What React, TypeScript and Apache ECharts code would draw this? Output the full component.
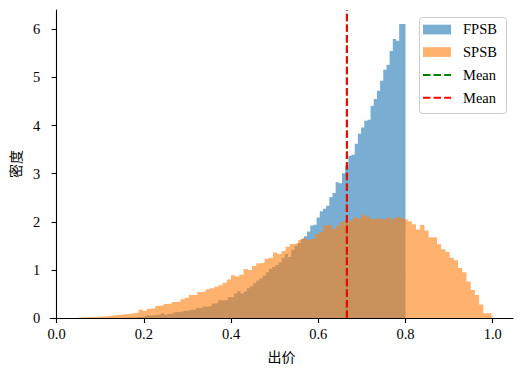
import React, { useEffect, useRef } from "react";
import * as echarts from "echarts";

// Histogram bins (edges come from start + width * index)
const FPSB_START = 0.072;
const FPSB_WIDTH = 0.00728;
const SPSB_START = 0.0332;
const SPSB_WIDTH = 0.009645;

// FPSB density per bin (100 bins)
const fpsbDensity = [
  0, 0, 0, 0, 0, 0, 0.002, 0.002, 0.002, 0.002,
  0.005, 0.005, 0.005, 0.01, 0.01, 0.01, 0.02, 0.02, 0.03, 0.05,
  0.05, 0.06, 0.07, 0.07, 0.1, 0.07, 0.09, 0.09, 0.12, 0.13,
  0.13, 0.15, 0.15, 0.17, 0.17, 0.21, 0.21, 0.24, 0.24, 0.25,
  0.3, 0.31, 0.37, 0.37, 0.37, 0.43, 0.43, 0.51, 0.56, 0.51,
  0.55, 0.62, 0.66, 0.72, 0.78, 0.82, 0.88, 0.95, 1.02, 1.06,
  1.1, 1.16, 1.25, 1.33, 1.27, 1.42, 1.5, 1.56, 1.64, 1.7,
  1.8, 1.92, 1.94, 2.09, 2.22, 2.27, 2.33, 2.51, 2.6, 2.82,
  2.8, 3.01, 3.17, 3.37, 3.39, 3.62, 3.83, 3.96, 4.1, 4.12,
  4.41, 4.55, 4.72, 4.93, 5.16, 5.26, 5.55, 5.8, 5.76, 6.11,
];

// SPSB density per bin (100 bins)
const spsbDensity = [
  0, 0, 0.003, 0.01, 0.015, 0.02, 0.02, 0.025, 0.03, 0.04,
  0.05, 0.06, 0.07, 0.08, 0.09, 0.1, 0.11, 0.17, 0.15, 0.19,
  0.2, 0.25, 0.26, 0.29, 0.3, 0.33, 0.34, 0.39, 0.42, 0.48,
  0.48, 0.54, 0.55, 0.6, 0.62, 0.65, 0.68, 0.73, 0.8, 0.89,
  0.86, 0.9, 1.02, 1.0, 1.08, 1.14, 1.15, 1.23, 1.25, 1.36,
  1.33, 1.39, 1.48, 1.54, 1.55, 1.62, 1.66, 1.62, 1.64, 1.74,
  1.79, 1.92, 1.93, 1.85, 1.92, 2.0, 2.02, 2.02, 2.09, 2.07,
  2.14, 2.11, 2.06, 2.06, 2.07, 2.05, 2.09, 2.05, 2.1, 2.08,
  2.05, 2.01, 1.95, 1.84, 1.93, 1.82, 1.68, 1.68, 1.53, 1.43,
  1.37, 1.25, 1.2, 1.04, 0.95, 0.76, 0.58, 0.48, 0.28, 0.1,
];

const fpsbMean = 0.6655;
const spsbMean = 0.6656;

const xTicks = [0, 0.2, 0.4, 0.6, 0.8, 1.0];
const yTicks = [0, 1, 2, 3, 4, 5, 6];

const SERIF = "'Liberation Serif', 'Times New Roman', serif";
const CJK = "'Noto Sans CJK SC', sans-serif";

function histPoints(start: number, width: number, vals: number[]) {
  const pts: number[][] = vals.map((v, i) => [start + i * width, v]);
  pts.push([start + vals.length * width, vals[vals.length - 1]]);
  return pts;
}

export default function App() {
  const ref = useRef<HTMLDivElement>(null);
  useEffect(() => {
    if (!ref.current) return;
    const chart = echarts.init(ref.current, undefined, { renderer: "svg" });
    const yMax = 6.4;
    const legendX = 419.5;
    const legendY = 17.5;
    const rowY = [29.3, 52, 75, 97.7];
    chart.setOption({
      animation: false,
      grid: { left: 49, right: 11, top: 10, bottom: 57, containLabel: false },
      xAxis: {
        type: "value",
        min: -0.0149,
        max: 1.0465,
        name: "出价",
        nameLocation: "middle",
        nameGap: 31,
        nameTextStyle: { fontFamily: CJK, fontSize: 14, color: "#000" },
        axisLine: { show: true, lineStyle: { color: "#000", width: 1.1 } },
        axisTick: { show: true, inside: false, length: 5, customValues: xTicks, lineStyle: { color: "#000", width: 1.1 } },
        axisLabel: {
          customValues: xTicks,
          formatter: (v: number) => v.toFixed(1),
          fontFamily: SERIF,
          fontSize: 14.5,
          color: "#000",
          margin: 8,
        },
        splitLine: { show: false },
      },
      yAxis: {
        type: "value",
        min: 0,
        max: yMax,
        name: "密度",
        nameLocation: "middle",
        nameRotate: 90,
        nameGap: 25,
        nameTextStyle: { fontFamily: CJK, fontSize: 14, color: "#000" },
        axisLine: { show: true, lineStyle: { color: "#000", width: 1.1 } },
        axisTick: { show: true, inside: false, length: 5, customValues: yTicks, lineStyle: { color: "#000", width: 1.1 } },
        axisLabel: {
          customValues: yTicks,
          fontFamily: SERIF,
          fontSize: 14.5,
          color: "#000",
          margin: 10,
        },
        splitLine: { show: false },
      },
      series: [
        {
          name: "FPSB",
          type: "line",
          step: "start",
          data: histPoints(FPSB_START, FPSB_WIDTH, fpsbDensity),
          showSymbol: false,
          symbol: "none",
          lineStyle: { width: 0 },
          areaStyle: { color: "rgba(31,119,180,0.6)", opacity: 1 },
          z: 1,
        },
        {
          name: "SPSB",
          type: "line",
          step: "start",
          data: histPoints(SPSB_START, SPSB_WIDTH, spsbDensity),
          showSymbol: false,
          symbol: "none",
          lineStyle: { width: 0 },
          areaStyle: { color: "rgba(255,127,14,0.6)", opacity: 1 },
          z: 2,
        },
        {
          name: "Mean FPSB",
          type: "line",
          data: [[fpsbMean, 0], [fpsbMean, yMax]],
          showSymbol: false,
          symbol: "none",
          lineStyle: { color: "#008000", width: 2, type: [7.4, 3.2] },
          z: 3,
        },
        {
          name: "Mean SPSB",
          type: "line",
          data: [[spsbMean, 0], [spsbMean, yMax]],
          showSymbol: false,
          symbol: "none",
          lineStyle: { color: "#ff0000", width: 2, type: [7.4, 3.2] },
          z: 4,
        },
      ],
      graphic: [
        {
          type: "rect",
          shape: { x: legendX, y: legendY, width: 87, height: 96, r: 3 },
          style: { fill: "rgba(255,255,255,0.8)", stroke: "#cccccc", lineWidth: 1 },
          z: 10,
        },
        {
          type: "rect",
          shape: { x: 423, y: 24.7, width: 28, height: 9.7 },
          style: { fill: "rgba(31,119,180,0.6)" },
          z: 11,
        },
        {
          type: "rect",
          shape: { x: 423, y: 47.2, width: 28, height: 9.7 },
          style: { fill: "rgba(255,127,14,0.6)" },
          z: 11,
        },
        {
          type: "line",
          shape: { x1: 423, y1: rowY[2], x2: 451, y2: rowY[2] },
          style: { stroke: "#008000", lineWidth: 2, lineDash: [7.4, 3.2] },
          z: 11,
        },
        {
          type: "line",
          shape: { x1: 423, y1: rowY[3], x2: 451, y2: rowY[3] },
          style: { stroke: "#ff0000", lineWidth: 2, lineDash: [7.4, 3.2] },
          z: 11,
        },
        ...["FPSB", "SPSB", "Mean", "Mean"].map((t, i) => ({
          type: "text",
          x: 463,
          y: rowY[i],
          style: {
            text: t,
            fontFamily: SERIF,
            fontSize: 14.5,
            fill: "#000",
            textVerticalAlign: "middle",
            verticalAlign: "middle",
          },
          z: 11,
        })),
      ],
    });
    return () => chart.dispose();
  }, []);
  return (
    <div
      ref={ref}
      style={{ position: "absolute", left: 0, top: 0, width: 524, height: 375 }}
    />
  );
}
